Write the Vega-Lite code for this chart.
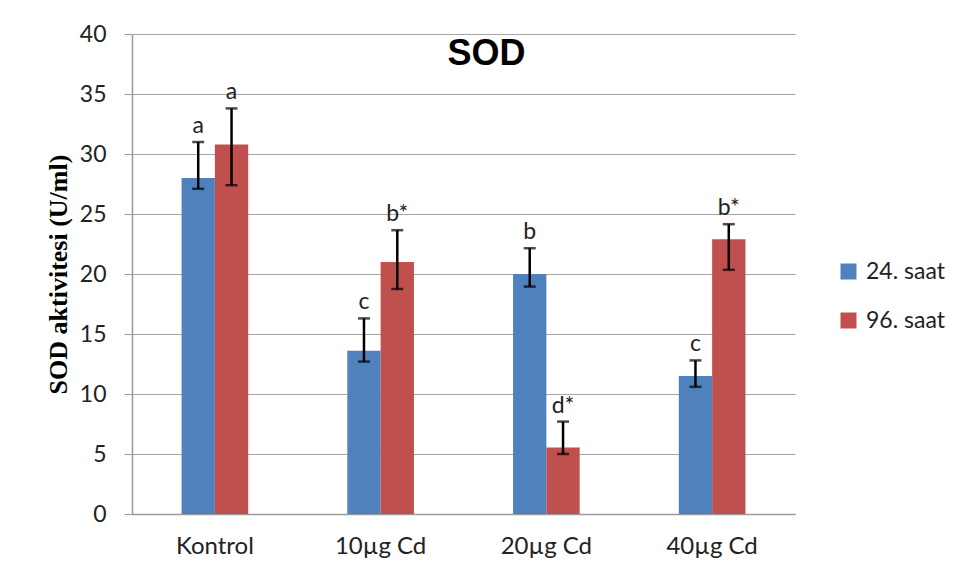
{
  "$schema": "https://vega.github.io/schema/vega-lite/v6.json",
  "width": 663,
  "height": 480,
  "autosize": {"type": "none"},
  "padding": {"left": 132, "top": 34, "right": 163, "bottom": 64},
  "background": "white",
  "title": {
    "text": "SOD",
    "orient": "top",
    "anchor": "middle",
    "frame": "group",
    "font": "Liberation Sans",
    "fontSize": 36,
    "fontWeight": "bold",
    "color": "#000000",
    "baseline": "alphabetic",
    "offset": -78,
    "dx": 23
  },
  "data": {
    "values": [
      {"group": "Kontrol", "series": "24. saat", "value": 28.0, "lo": 27.1, "hi": 31.0, "sig": "a"},
      {"group": "Kontrol", "series": "96. saat", "value": 30.8, "lo": 27.4, "hi": 33.8, "sig": "a"},
      {"group": "10µg Cd", "series": "24. saat", "value": 13.6, "lo": 12.7, "hi": 16.3, "sig": "c"},
      {"group": "10µg Cd", "series": "96. saat", "value": 21.0, "lo": 18.75, "hi": 23.65, "sig": "b*"},
      {"group": "20µg Cd", "series": "24. saat", "value": 20.0, "lo": 18.95, "hi": 22.15, "sig": "b"},
      {"group": "20µg Cd", "series": "96. saat", "value": 5.55, "lo": 5.0, "hi": 7.7, "sig": "d*"},
      {"group": "40µg Cd", "series": "24. saat", "value": 11.5, "lo": 10.6, "hi": 12.8, "sig": "c"},
      {"group": "40µg Cd", "series": "96. saat", "value": 22.9, "lo": 20.35, "hi": 24.15, "sig": "b*"}
    ]
  },
  "encoding": {
    "x": {
      "field": "group",
      "type": "nominal",
      "sort": ["Kontrol", "10µg Cd", "20µg Cd", "40µg Cd"],
      "scale": {"paddingInner": 0.598, "paddingOuter": 0.299},
      "axis": {
        "title": null,
        "labelAngle": 0,
        "ticks": false,
        "grid": false,
        "domainColor": "#9a9a9a",
        "domainWidth": 1.5,
        "labelFont": "Lato",
        "labelFontSize": 24,
        "labelColor": "#222222",
        "labelPadding": 20
      }
    },
    "xOffset": {
      "field": "series",
      "type": "nominal",
      "sort": ["24. saat", "96. saat"],
      "scale": {"paddingInner": 0, "paddingOuter": 0}
    }
  },
  "layer": [
    {
      "mark": {"type": "bar"},
      "encoding": {
        "y": {
          "field": "value",
          "type": "quantitative",
          "scale": {"domain": [0, 40], "nice": false},
          "axis": {
            "values": [0, 5, 10, 15, 20, 25, 30, 35, 40],
            "title": "SOD aktivitesi (U/ml)",
            "titleFont": "Liberation Serif",
            "titleFontSize": 26,
            "titleFontWeight": "bold",
            "titleColor": "#000000",
            "titlePadding": 8,
            "labelFont": "Lato",
            "labelFontSize": 23,
            "labelColor": "#222222",
            "labelPadding": 18,
            "tickSize": 8,
            "tickColor": "#9a9a9a",
            "domainColor": "#9a9a9a",
            "domainWidth": 1.5,
            "gridColor": "#a6a6a6",
            "gridWidth": 1.2
          }
        },
        "color": {
          "field": "series",
          "type": "nominal",
          "scale": {"domain": ["24. saat", "96. saat"], "range": ["#4F81BD", "#C0504D"]},
          "legend": {
            "title": null,
            "orient": "none",
            "legendX": 705,
            "legendY": 226,
            "padding": 0,
            "symbolType": "square",
            "symbolSize": 256,
            "symbolStrokeWidth": 0,
            "labelFont": "Lato",
            "labelFontSize": 23,
            "labelColor": "#222222",
            "labelOffset": 6,
            "rowPadding": 25
          }
        }
      }
    },
    {
      "mark": {"type": "rule", "color": "#000000", "strokeWidth": 2.5},
      "encoding": {
        "y": {"field": "lo", "type": "quantitative"},
        "y2": {"field": "hi"}
      }
    },
    {
      "mark": {"type": "tick", "color": "#000000", "thickness": 2.5, "size": 12},
      "encoding": {
        "y": {"field": "lo", "type": "quantitative"}
      }
    },
    {
      "mark": {"type": "tick", "color": "#000000", "thickness": 2.5, "size": 12},
      "encoding": {
        "y": {"field": "hi", "type": "quantitative"}
      }
    },
    {
      "mark": {"type": "text", "font": "Lato", "fontSize": 23, "color": "#222222", "baseline": "alphabetic", "dy": -9},
      "encoding": {
        "y": {"field": "hi", "type": "quantitative"},
        "text": {"field": "sig"}
      }
    }
  ],
  "config": {
    "view": {"stroke": null}
  }
}
